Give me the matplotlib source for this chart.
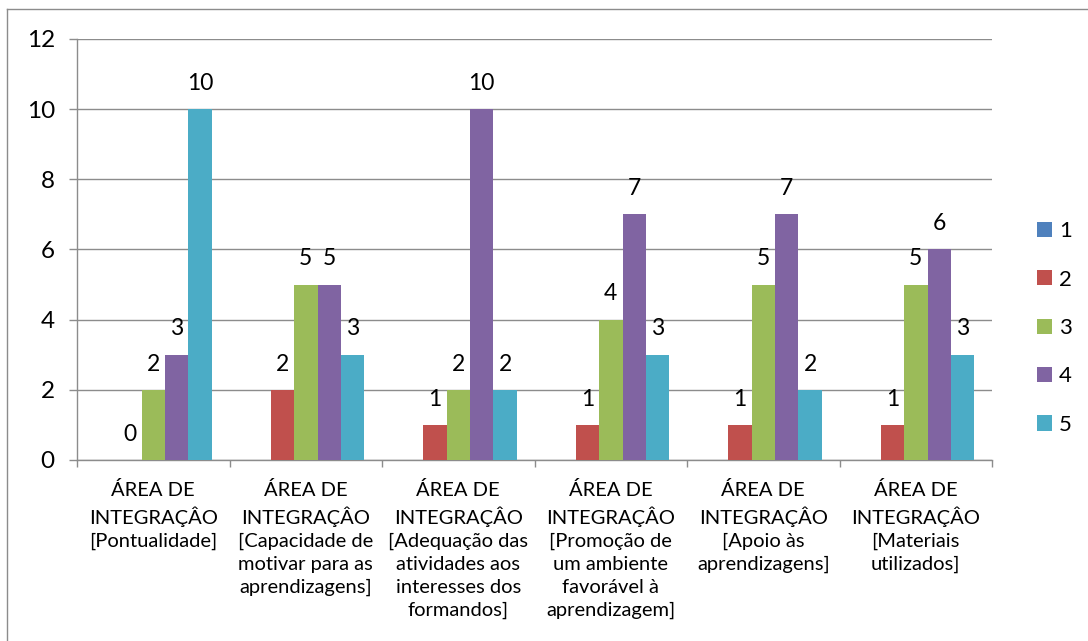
import numpy as np
import matplotlib.pyplot as plt
from matplotlib.lines import Line2D

plt.rcParams['font.family'] = ['Lato', 'DejaVu Sans']

categories = [
    "ÁREA DE\nINTEGRAÇÂO\n[Pontualidade]",
    "ÁREA DE\nINTEGRAÇÂO\n[Capacidade de\nmotivar para as\naprendizagens]",
    "ÁREA DE\nINTEGRAÇÂO\n[Adequação das\natividades aos\ninteresses dos\nformandos]",
    "ÁREA DE\nINTEGRAÇÂO\n[Promoção de\num ambiente\nfavorável à\naprendizagem]",
    "ÁREA DE\nINTEGRAÇÂO\n[Apoio às\naprendizagens]",
    "ÁREA DE\nINTEGRAÇÂO\n[Materiais\nutilizados]",
]
series_names = ["1", "2", "3", "4", "5"]
s1 = [np.nan, np.nan, np.nan, np.nan, np.nan, np.nan]
s2 = [0, 2, 1, 1, 1, 1]
s3 = [2, 5, 2, 4, 5, 5]
s4 = [3, 5, 10, 7, 7, 6]
s5 = [10, 3, 2, 3, 2, 3]
series = [s1, s2, s3, s4, s5]
colors = ["#4F81BD", "#C0504D", "#9BBB59", "#8064A2", "#4BACC6"]

grey = "#8C8C8C"

fig = plt.figure(figsize=(10.88, 6.41), dpi=100)
ax = fig.add_axes([0.0708, 0.2824, 0.8410, 0.6568])

x = np.arange(len(categories))
w = 1 / 6.5
for i, (vals, c, name) in enumerate(zip(series, colors, series_names)):
    bars = ax.bar(x + (i - 2) * w, vals, w, color=c, label=name, zorder=3)
    if i > 0:
        ax.bar_label(bars, padding=11, fontsize=16.5, color="black")

ax.set_xlim(-0.5, len(categories) - 0.5)
ax.set_ylim(0, 12)
ax.set_yticks(range(0, 13, 2))
ax.grid(axis="y", color=grey, linewidth=1.0, zorder=0)

# category separators as major ticks, labels on minor ticks
ax.set_xticks(np.arange(-0.5, len(categories), 1.0))
ax.set_xticklabels([])
ax.set_xticks(x, minor=True)
ax.set_xticklabels(categories, minor=True, fontsize=14.5, linespacing=1.42)
ax.tick_params(axis="x", which="major", length=5, color=grey, width=1.0)
ax.tick_params(axis="x", which="minor", length=0, pad=15)
ax.tick_params(axis="y", length=6, color=grey, width=1.0, pad=10, labelsize=17.5)

for side in ["top", "right"]:
    ax.spines[side].set_visible(False)
for side in ["left", "bottom"]:
    ax.spines[side].set_color(grey)
    ax.spines[side].set_linewidth(1.0)

fig.legend(loc="center left", bbox_to_anchor=(1026 / 1088, 1 - 328 / 641),
           frameon=False, fontsize=16, handlelength=0.68, handleheight=0.68,
           handletextpad=0.3, labelspacing=1.28, borderpad=0)

# outer chart border (top and left edges visible)
fig.add_artist(Line2D([7 / 1088, 1], [1 - 9 / 641, 1 - 9 / 641], color=grey, lw=1.0,
                      transform=fig.transFigure))
fig.add_artist(Line2D([7 / 1088, 7 / 1088], [0, 1 - 9 / 641], color=grey, lw=1.0,
                      transform=fig.transFigure))

fig.savefig("out.png", dpi=100)
